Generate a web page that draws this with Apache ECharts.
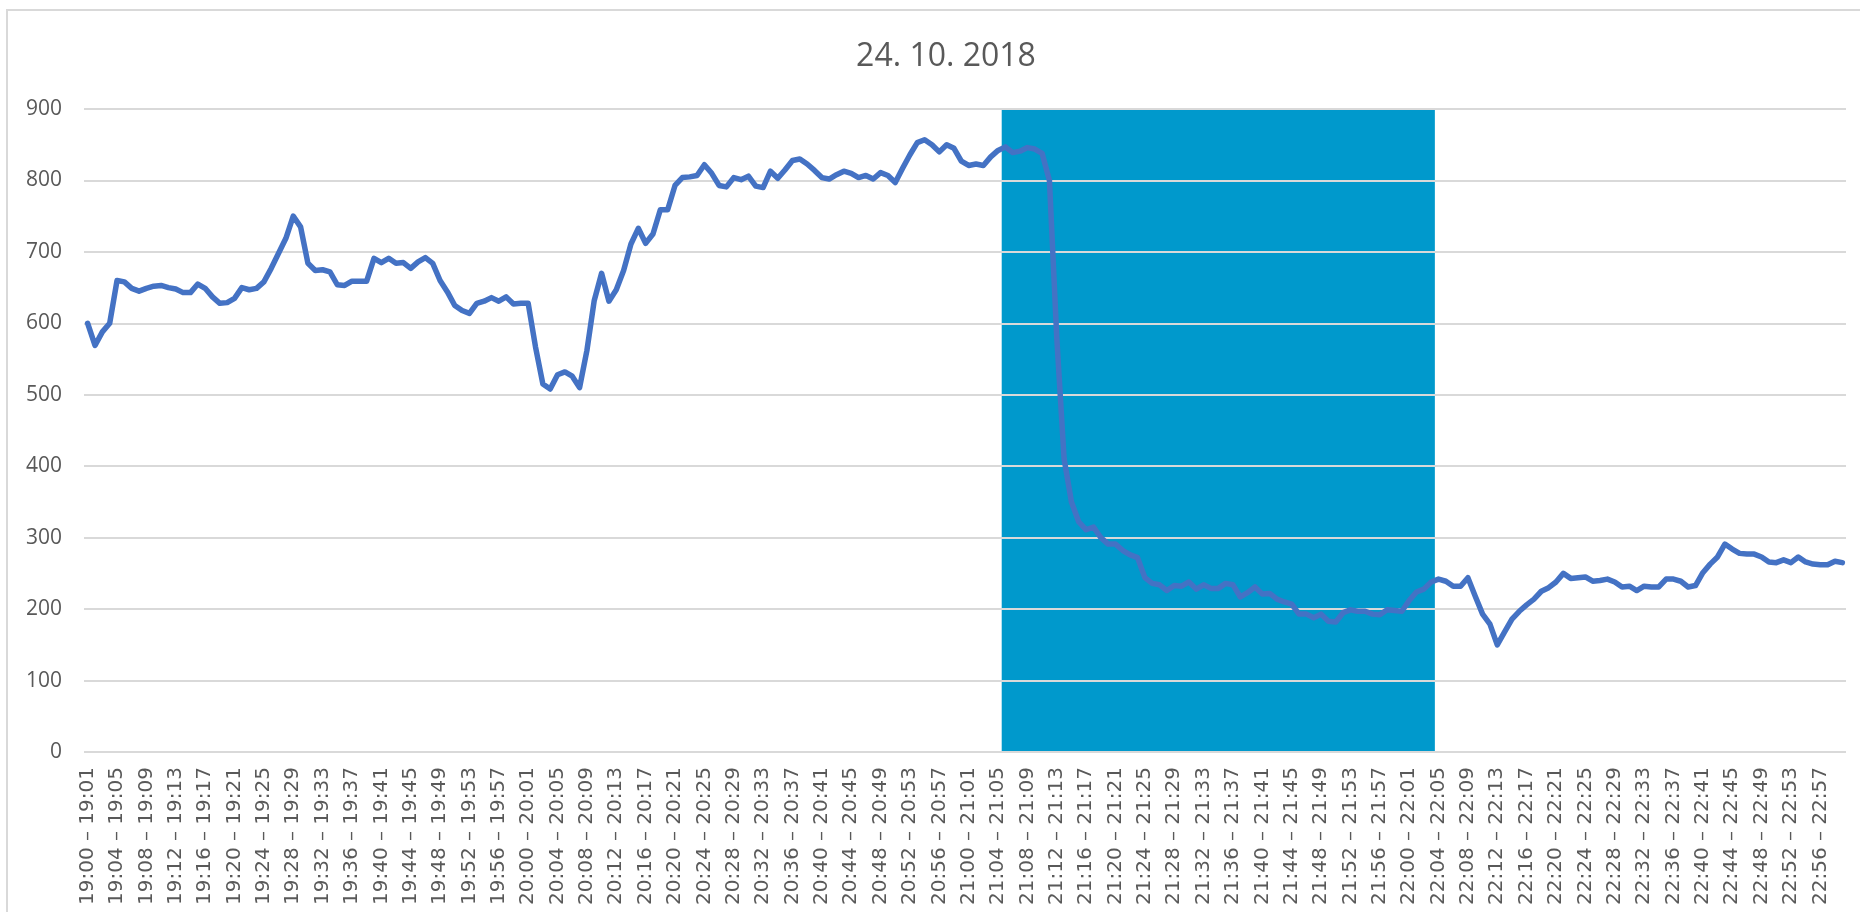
<!DOCTYPE html>
<html>
<head>
<meta charset="utf-8">
<title>24. 10. 2018</title>
<script src="https://cdn.jsdelivr.net/npm/echarts@6/dist/echarts.min.js"></script>
<style>
  html, body { margin: 0; padding: 0; background: #fff; }
  #chart { width: 1860px; height: 912px; }
</style>
</head>
<body>
<div id="chart"></div>
<script>
// minute values, one array per hour
const hour19 = [
  600, 569, 588, 600, 660, 658, 649, 645, 649, 652,
  653, 650, 648, 643, 643, 655, 649, 637, 628, 629,
  635, 650, 647, 649, 658, 677, 698, 719, 750, 735,
  684, 674, 675, 672, 654, 653, 659, 659, 659, 691,
  685, 691, 684, 685, 677, 686, 692, 684, 660, 644,
  625, 618, 614, 628, 631, 636, 631, 637, 627, 628
]
const hour20 = [
  628, 567, 515, 508, 528, 532, 526, 510, 562, 632,
  670, 631, 647, 674, 711, 733, 712, 725, 759, 759,
  793, 804, 805, 807, 822, 810, 793, 791, 804, 801,
  806, 792, 790, 813, 803, 815, 828, 830, 823, 814,
  804, 802, 808, 813, 810, 804, 807, 802, 811, 807,
  797, 817, 836, 853, 857, 850, 840, 850, 845, 827
]
const hour21 = [
  821, 823, 821, 833, 842, 847, 839, 841, 846, 844,
  838, 800, 580, 410, 350, 322, 311, 315, 300, 291,
  291, 282, 276, 272, 244, 236, 234, 226, 233, 232,
  238, 228, 234, 229, 229, 236, 234, 217, 223, 231,
  221, 222, 214, 210, 207, 193, 193, 188, 193, 183,
  182, 195, 199, 197, 197, 193, 192, 199, 198, 197
]
const hour22 = [
  212, 224, 228, 238, 242, 239, 232, 232, 244, 218,
  193, 179, 150, 168, 186, 197, 206, 214, 225, 230,
  238, 250, 243, 244, 245, 239, 240, 242, 238, 231,
  232, 226, 232, 231, 231, 242, 242, 239, 231, 233,
  251, 263, 273, 291, 284, 278, 277, 277, 273, 266,
  265, 269, 265, 273, 266, 263, 262, 262, 267, 265
]

// highlighted period (blue block)
const bandFrom = '21:05 – 21:06'
const bandTo = '22:03 – 22:04'
const bandValue = 900

const hours = [19, 20, 21, 22]

function pad (n) { return (n < 10 ? '0' : '') + n }

// category labels "HH:MM – HH:MM"
let categories = []
hours.forEach(h => {
  for (let m = 0; m < 60; m++) {
    let h2 = m === 59 ? h + 1 : h
    let m2 = (m + 1) % 60
    categories.push(h + ':' + pad(m) + ' – ' + h2 + ':' + pad(m2))
  }
})

const values = [].concat(hour19, hour20, hour21, hour22)

let i0 = categories.indexOf(bandFrom)
let i1 = categories.indexOf(bandTo)

// one solid block covering whole category slots i0..i1
function renderBand (params, api) {
  let topLeft = api.coord([api.value(0), api.value(2)])
  let bottomRight = api.coord([api.value(1), 0])
  let w = api.size([1, 0])[0]
  return {
    type: 'rect',
    shape: {
      x: topLeft[0] - w / 2,
      y: topLeft[1],
      width: bottomRight[0] - topLeft[0] + w,
      height: bottomRight[1] - topLeft[1]
    },
    style: { fill: '#0099CC' }
  }
}

let myChart = echarts.init(document.getElementById('chart'))
myChart.setOption({
  animation: false,
  backgroundColor: '#fff',
  graphic: [{
    type: 'rect',
    shape: { x: 7, y: 10, width: 1880, height: 940 },
    style: { fill: null, stroke: '#D9D9D9', lineWidth: 2 },
    silent: true
  }],
  title: {
    text: '24. 10. 2018',
    left: 941,
    textAlign: 'center',
    top: 36,
    textStyle: {
      fontFamily: 'Open Sans',
      fontSize: 32,
      fontWeight: 'normal',
      color: '#595959'
    }
  },
  grid: { left: 84, right: 14, top: 109, bottom: 160 },
  xAxis: {
    type: 'category',
    data: categories,
    boundaryGap: true,
    axisLine: { show: false },
    axisTick: { show: false },
    axisLabel: {
      interval: 3,
      rotate: 90,
      margin: 15,
      fontFamily: 'DejaVu Sans',
      fontSize: 20,
      color: '#595959'
    }
  },
  yAxis: {
    type: 'value',
    min: 0,
    max: 900,
    interval: 100,
    z: 3,
    axisLine: { show: false },
    axisTick: { show: false },
    axisLabel: {
      margin: 22,
      fontFamily: 'Open Sans',
      fontSize: 21,
      color: '#595959'
    },
    splitLine: { lineStyle: { color: '#D9D9D9', width: 2 } }
  },
  series: [
    {
      name: 'band',
      type: 'custom',
      renderItem: renderBand,
      data: [[i0, i1, bandValue]],
      encode: { x: [0, 1], y: 2 },
      silent: true,
      z: 1
    },
    {
      name: 'value',
      type: 'line',
      data: values,
      symbol: 'none',
      z: 5,
      lineStyle: { color: '#4472C4', width: 5.5, join: 'round', cap: 'round' }
    }
  ]
})
</script>
</body>
</html>
